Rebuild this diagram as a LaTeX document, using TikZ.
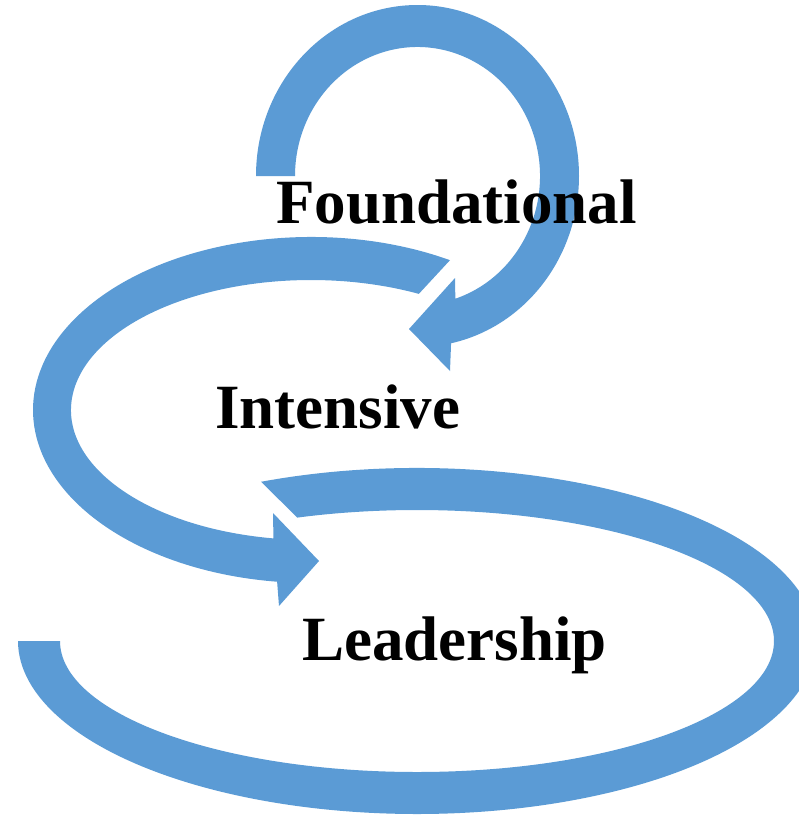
\documentclass[tikz,border=0pt]{standalone}
\usepackage{fontspec}
\setmainfont{Liberation Serif}
\usetikzlibrary{calc}
\definecolor{arrowblue}{RGB}{91,155,213}
\tikzset{
  arrowfill/.style={fill=arrowblue, draw=none},
  lbl/.style={inner sep=0pt, anchor=base west, text=black,
    font=\fontsize{63}{75}\selectfont\bfseries}
}
\begin{document}
\begin{tikzpicture}[x=1pt,y=1pt]
\useasboundingbox (0,0) rectangle (799,-815);
\clip (0,0) rectangle (799,-815);
% centres of the three elliptical arrows
\coordinate (c1) at (417.5,-176);
\coordinate (c2) at (311,-410);
\coordinate (c3) at (417,-641);
% heads
\coordinate (h1a) at (450,-371);
\coordinate (h1t) at (409,-329);
\coordinate (h1b) at (455,-278);
\coordinate (h2a) at (279,-606);
\coordinate (h2t) at (319,-561);
\coordinate (h2b) at (273,-513);
% arrow 1 : small loop, clockwise
\fill[arrowfill] ($(c1)+(180:161.5pt and 171pt)$)
  arc[start angle=180, end angle=-78, x radius=161.5pt, y radius=171pt]
  -- (h1a) -- (h1t) -- (h1b)
  -- ($(c1)+(-72:122.5pt and 129pt)$)
  arc[start angle=-72, end angle=180, x radius=122.5pt, y radius=129pt]
  -- cycle;
% arrow 2 : middle loop, counter-clockwise
\fill[arrowfill] ($(c2)+(60:278pt and 173pt)$)
  arc[start angle=60, end angle=263, x radius=278pt, y radius=173pt]
  -- (h2a) -- (h2t) -- (h2b)
  -- ($(c2)+(261:240pt and 130pt)$)
  arc[start angle=261, end angle=63.3, x radius=240pt, y radius=130pt]
  -- cycle;
% arrow 3 : large loop, clockwise, flat end
\fill[arrowfill] ($(c3)+(113:399pt and 173pt)$)
  arc[start angle=113, end angle=-180, x radius=399pt, y radius=173pt]
  -- ($(c3)+(-180:357pt and 131pt)$)
  arc[start angle=-180, end angle=109.6, x radius=357pt, y radius=131pt]
  -- cycle;
% labels
\node[lbl] (found) at (276,-223) {Foundational};
\node[lbl] (inten) at (215,-428) {Intensive};
\node[lbl] (lead) at (302,-660) {Leadership};
\end{tikzpicture}
\end{document}
